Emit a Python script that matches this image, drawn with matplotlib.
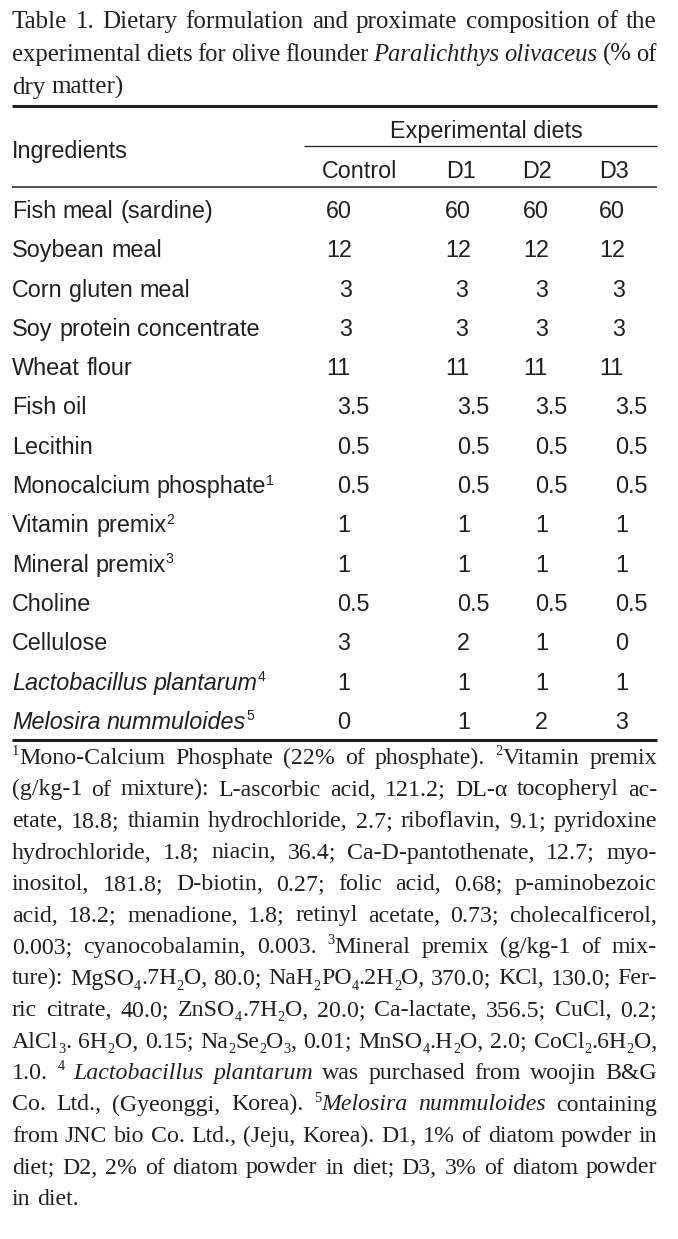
import matplotlib
matplotlib.use("Agg")
import matplotlib.pyplot as plt
from matplotlib import font_manager

# Table content
title_lines = [
    "Table 1. Dietary formulation and proximate composition of the",
    "experimental diets for olive flounder *Paralichthys olivaceus* (% of",
    "dry matter)",
]
group_label = "Experimental diets"
first_col = "Ingredients"
diets = ["Control", "D1", "D2", "D3"]
ingredients = [
    "Fish meal (sardine)", "Soybean meal", "Corn gluten meal",
    "Soy protein concentrate", "Wheat flour", "Fish oil", "Lecithin",
    "Monocalcium phosphate^{1}", "Vitamin premix^{2}", "Mineral premix^{3}",
    "Choline", "Cellulose", "*Lactobacillus plantarum*^{4}",
    "*Melosira nummuloides*^{5}",
]
control = [60, 12, 3, 3, 11, 3.5, 0.5, 0.5, 1, 1, 0.5, 3, 1, 0]
d1 = [60, 12, 3, 3, 11, 3.5, 0.5, 0.5, 1, 1, 0.5, 2, 1, 1]
d2 = [60, 12, 3, 3, 11, 3.5, 0.5, 0.5, 1, 1, 0.5, 1, 1, 2]
d3 = [60, 12, 3, 3, 11, 3.5, 0.5, 0.5, 1, 1, 0.5, 0, 1, 3]

footnote_lines = [
    "^{1}Mono-Calcium Phosphate (22% of phosphate). ^{2}Vitamin premix",
    "(g/kg-1 of mixture): L-ascorbic acid, 121.2; DL-α tocopheryl ac-",
    "etate, 18.8; thiamin hydrochloride, 2.7; riboflavin, 9.1; pyridoxine",
    "hydrochloride, 1.8; niacin, 36.4; Ca-D-pantothenate, 12.7; myo-",
    "inositol, 181.8; D-biotin, 0.27; folic acid, 0.68; p-aminobezoic",
    "acid, 18.2; menadione, 1.8; retinyl acetate, 0.73; cholecalficerol,",
    "0.003; cyanocobalamin, 0.003. ^{3}Mineral premix (g/kg-1 of mix-",
    "ture): MgSO_{4}.7H_{2}O, 80.0; NaH_{2}PO_{4}.2H_{2}O, 370.0; KCl, 130.0; Fer-",
    "ric citrate, 40.0; ZnSO_{4}.7H_{2}O, 20.0; Ca-lactate, 356.5; CuCl, 0.2;",
    "AlCl_{3}. 6H_{2}O, 0.15; Na_{2}Se_{2}O_{3}, 0.01; MnSO_{4}.H_{2}O, 2.0; CoCl_{2}.6H_{2}O,",
    "1.0. ^{4} *Lactobacillus plantarum* was purchased from woojin B&G",
    "Co. Ltd., (Gyeonggi, Korea). ^{5}*Melosira nummuloides* containing",
    "from JNC bio Co. Ltd., (Jeju, Korea). D1, 1% of diatom powder in",
    "diet; D2, 2% of diatom powder in diet; D3, 3% of diatom powder",
    "in diet.",
]

INK = "#231f20"
W, H = 678, 1239
X0, X1 = 12, 657

names = {f.name for f in font_manager.fontManager.ttflist}
if "Liberation Sans Narrow" in names:
    SANS, SANS_PT = "Liberation Sans Narrow", 20.1
else:
    SANS, SANS_PT = "Liberation Sans", 16.8
SERIF = "Liberation Serif"
TITLE_PT = 18.0
NOTE_PT = 17.2

fig = plt.figure(figsize=(W / 100, H / 100), dpi=100)
ax = fig.add_axes([0, 0, 1, 1])
ax.set_xlim(0, W)
ax.set_ylim(H, 0)
ax.axis("off")
renderer = fig.canvas.get_renderer()


def parse(s):
    # split into words; each word = list of (text, kind, italic)
    words, word, buf = [], [], ""
    italic = False
    i = 0
    while i < len(s):
        c = s[i]
        if c == "*":
            if buf:
                word.append((buf, "n", italic))
                buf = ""
            italic = not italic
            i += 1
            continue
        if c in "^_" and i + 1 < len(s) and s[i + 1] == "{":
            if buf:
                word.append((buf, "n", italic))
                buf = ""
            j = s.index("}", i)
            word.append((s[i + 2:j], "sup" if c == "^" else "sub", italic))
            i = j + 1
            continue
        if c == " ":
            if buf:
                word.append((buf, "n", italic))
                buf = ""
            if word:
                words.append(word)
                word = []
            i += 1
            continue
        buf += c
        i += 1
    if buf:
        word.append((buf, "n", italic))
    if word:
        words.append(word)
    return words


def make_word(word, pt, family):
    em = pt * 100 / 72
    items, w = [], 0
    for txt, kind, it in word:
        size = pt * 0.6 if kind != "n" else pt
        dy = {"n": 0, "sup": -0.36 * em, "sub": 0.22 * em}[kind]
        t = ax.text(0, 0, txt, fontsize=size, family=family, color=INK,
                    style="italic" if it else "normal", va="baseline", ha="left")
        tw = t.get_window_extent(renderer).width
        items.append((t, w, dy))
        w += tw
    return items, w


def space_width(pt, family):
    a = ax.text(0, 0, "n n", fontsize=pt, family=family)
    b = ax.text(0, 0, "nn", fontsize=pt, family=family)
    sw = a.get_window_extent(renderer).width - b.get_window_extent(renderer).width
    a.remove()
    b.remove()
    return sw


def draw_line(s, x, y, pt, family, justify=False, right=None):
    while True:
        words = [make_word(wd, pt, family) for wd in parse(s)]
        total = sum(w for _, w in words)
        gap = space_width(pt, family)
        if not (justify and len(words) > 1):
            break
        gap = (right - x - total) / (len(words) - 1)
        if gap >= 0.15 * pt * 100 / 72:
            break
        # too tight: shrink this line a little and retry
        for items, _ in words:
            for t, _, _ in items:
                t.remove()
        pt *= 0.985
    cx = x
    for items, w in words:
        for t, off, dy in items:
            t.set_position((cx + off, y + dy))
        cx += w + gap
    return cx - gap


# title
title_base = [28, 61, 94]
for k, (line, yb) in enumerate(zip(title_lines, title_base)):
    draw_line(line, X0, yb, TITLE_PT, SERIF, justify=k < len(title_lines) - 1, right=X1)

# rules
ax.plot([X0, X1], [106, 106], color=INK, lw=2.2, solid_capstyle="butt")
ax.plot([304, X1], [146, 146], color=INK, lw=0.9, solid_capstyle="butt")
ax.plot([X0, X1], [187, 187], color=INK, lw=1.1, solid_capstyle="butt")
ax.plot([X0, X1], [740, 740], color=INK, lw=2.2, solid_capstyle="butt")

# header
ax.text(486, 138, group_label, fontsize=SANS_PT, family=SANS, color=INK,
        ha="center", va="baseline")
draw_line(first_col, X0, 158, SANS_PT, SANS)
head_x = [360, 461, 537, 614]
for hx, name in zip(head_x, diets):
    ax.text(hx, 178, name, fontsize=SANS_PT, family=SANS, color=INK,
            ha="center", va="baseline")

# body
left_a = [326, 445, 523, 599]
right_b = [352, 468, 548, 625]
left_c = [337, 457, 535, 615]
row0, step = 218, 39.3
for i, name in enumerate(ingredients):
    yb = row0 + i * step
    draw_line(name, X0, yb, SANS_PT, SANS)
    for j, col in enumerate([control, d1, d2, d3]):
        v = f"{col[i]:g}"
        if i in (0, 1, 4):
            ax.text(left_a[j], yb, v, fontsize=SANS_PT, family=SANS, color=INK,
                    ha="left", va="baseline")
        elif i in (2, 3):
            ax.text(right_b[j], yb, v, fontsize=SANS_PT, family=SANS, color=INK,
                    ha="right", va="baseline")
        else:
            ax.text(left_c[j], yb, v, fontsize=SANS_PT, family=SANS, color=INK,
                    ha="left", va="baseline")

# footnotes
note0, note_step = 764, 31.5
for k, line in enumerate(footnote_lines):
    draw_line(line, X0, note0 + k * note_step, NOTE_PT, SERIF,
              justify=k < len(footnote_lines) - 1, right=X1)

fig.savefig("out.png", dpi=100, facecolor="white")
